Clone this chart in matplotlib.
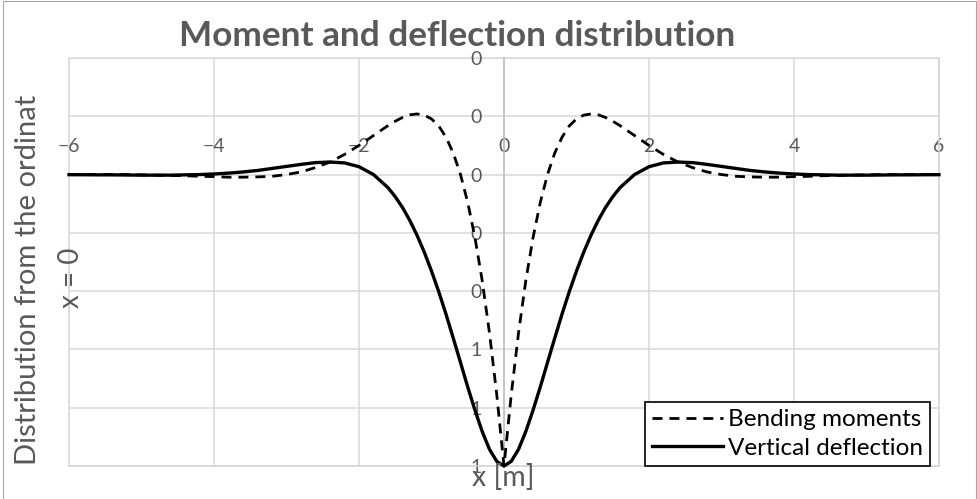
import matplotlib
matplotlib.use("Agg")
import matplotlib.pyplot as plt
from matplotlib.patches import Rectangle

# ---------------------------------------------------------------------------
# Beam on elastic foundation: moment and deflection, normalised to x = 0
# ---------------------------------------------------------------------------
x_m = [-6.0, -5.8, -5.6, -5.4, -5.2, -5.0, -4.8, -4.6, -4.4, -4.2,
       -4.0, -3.8, -3.6, -3.4, -3.2, -3.0, -2.8, -2.6, -2.4, -2.2,
       -2.0, -1.8, -1.6, -1.5, -1.4, -1.3, -1.2, -1.1, -1.0, -0.9,
       -0.8, -0.7, -0.6, -0.5, -0.4, -0.3, -0.2, -0.1, 0.0,
       0.1, 0.2, 0.3, 0.4, 0.5, 0.6, 0.7, 0.8, 0.9, 1.0,
       1.1, 1.2, 1.3, 1.4, 1.5, 1.6, 1.8, 2.0, 2.2, 2.4,
       2.6, 2.8, 3.0, 3.2, 3.4, 3.6, 3.8, 4.0, 4.2, 4.4,
       4.6, 4.8, 5.0, 5.2, 5.4, 5.6, 5.8, 6.0]

bending_moments = [0.000, 0.000, 0.000, 0.000, 0.000, 0.001, 0.002, 0.003, 0.004, 0.006,
                   0.007, 0.009, 0.009, 0.008, 0.006, 0.000, -0.009, -0.024, -0.043, -0.069,
                   -0.100, -0.134, -0.168, -0.183, -0.196, -0.205, -0.208, -0.204, -0.191, -0.167,
                   -0.128, -0.074, 0.000, 0.096, 0.217, 0.365, 0.544, 0.755, 1.000,
                   0.755, 0.544, 0.365, 0.217, 0.096, 0.000, -0.074, -0.128, -0.167, -0.191,
                   -0.204, -0.208, -0.205, -0.196, -0.183, -0.168, -0.134, -0.100, -0.069, -0.043,
                   -0.024, -0.009, 0.000, 0.006, 0.008, 0.009, 0.009, 0.007, 0.006, 0.004,
                   0.003, 0.002, 0.001, 0.000, 0.000, 0.000, 0.000, 0.000]

vertical_deflection = [0.0004, 0.0006, 0.001, 0.001, 0.0015, 0.002, 0.002, 0.002, 0.001, 0.000,
                       -0.002, -0.005, -0.009, -0.014, -0.021, -0.028, -0.035, -0.041, -0.043, -0.040,
                       -0.027, 0.000, 0.045, 0.076, 0.113, 0.157, 0.208, 0.266, 0.331, 0.402,
                       0.479, 0.561, 0.645, 0.729, 0.809, 0.882, 0.943, 0.984, 1.000,
                       0.984, 0.943, 0.882, 0.809, 0.729, 0.645, 0.561, 0.479, 0.402, 0.331,
                       0.266, 0.208, 0.157, 0.113, 0.076, 0.045, 0.000, -0.027, -0.040, -0.043,
                       -0.041, -0.035, -0.028, -0.021, -0.014, -0.009, -0.005, -0.002, 0.000, 0.001,
                       0.002, 0.002, 0.002, 0.0015, 0.001, 0.001, 0.0006, 0.0004]

x_ticks = [-6, -4, -2, 0, 2, 4, 6]
y_ticks = [-0.4, -0.2, 0.0, 0.2, 0.4, 0.6, 0.8, 1.0]
y_tick_labels = ['0', '0', '0', '0', '0', '1', '1', '1']

TEXT_GREY = '#595959'
GRID_GREY = '#d9d9d9'
W, H = 978, 499

plt.rcParams['font.family'] = ['Lato', 'DejaVu Sans']

fig = plt.figure(figsize=(W / 100, H / 100), dpi=100)
ax = fig.add_axes([69 / W, 1 - 466 / H, (939 - 69) / W, (466 - 58) / H])

ax.plot(x_m, bending_moments, color='black', lw=2.0, dashes=(3.6, 2.5),
        label='Bending moments', clip_on=False, zorder=3)
ax.plot(x_m, vertical_deflection, color='black', lw=2.4,
        label='Vertical deflection', clip_on=False, zorder=4)

ax.set_xlim(-6, 6)
ax.set_ylim(1.0, -0.4)          # positive values point downwards
ax.set_xticks(x_ticks)
ax.set_yticks(y_ticks)
ax.set_yticklabels(y_tick_labels)
ax.grid(True, color=GRID_GREY, lw=1.1)
ax.set_axisbelow(True)

# axes cross at the origin, x labels sit above the x axis
ax.spines['left'].set_position(('data', 0))
ax.spines['left'].set_color('#bfbfbf')
ax.spines['left'].set_linewidth(1.1)
ax.spines['top'].set_position(('data', 0))
ax.spines['top'].set_visible(False)
for side in ['right', 'bottom']:
    ax.spines[side].set_color(GRID_GREY)
    ax.spines[side].set_linewidth(1.1)
ax.add_patch(Rectangle((0, 0), 1, 1, transform=ax.transAxes, fill=False,
                       ec=GRID_GREY, lw=1.1, clip_on=False, zorder=0.5))

ax.xaxis.set_ticks_position('top')
ax.tick_params(axis='x', length=0, pad=14, labelsize=14, labelcolor=TEXT_GREY)
ax.tick_params(axis='y', length=0, pad=16, labelsize=14, labelcolor=TEXT_GREY)

leg = ax.legend(loc='lower right', bbox_to_anchor=(930 / W, 1 - 466 / H),
                bbox_transform=fig.transFigure, frameon=True, fancybox=False,
                edgecolor='black', framealpha=1, fontsize=17.5, handlelength=2.9,
                handletextpad=0.2, borderaxespad=0, borderpad=0.3, labelspacing=0.3)
leg.get_frame().set_linewidth(1.2)

fig.text(457 / W, 1 - 36 / H, 'Moment and deflection distribution', ha='center',
         va='center', fontsize=25.3, fontweight='bold', color=TEXT_GREY)
fig.text(28 / W, 1 - 280 / H, 'Distribution from the ordinat', rotation=90,
         ha='center', va='center', fontsize=21, color=TEXT_GREY)
fig.text(71 / W, 1 - 278 / H, 'x = 0', rotation=90, ha='center', va='center',
         fontsize=20, color=TEXT_GREY)
fig.text(503 / W, 1 - 478 / H, 'x [m]', ha='center', va='center', fontsize=20.5,
         color=TEXT_GREY)

# chart border
fig.add_artist(Rectangle((3.5 / W, -0.02), (976.5 - 3.5) / W, 1.02 - 1 / H,
                         transform=fig.transFigure, fill=False, ec='#a6a6a6', lw=0.8))

fig.savefig('out.png', dpi=100)
